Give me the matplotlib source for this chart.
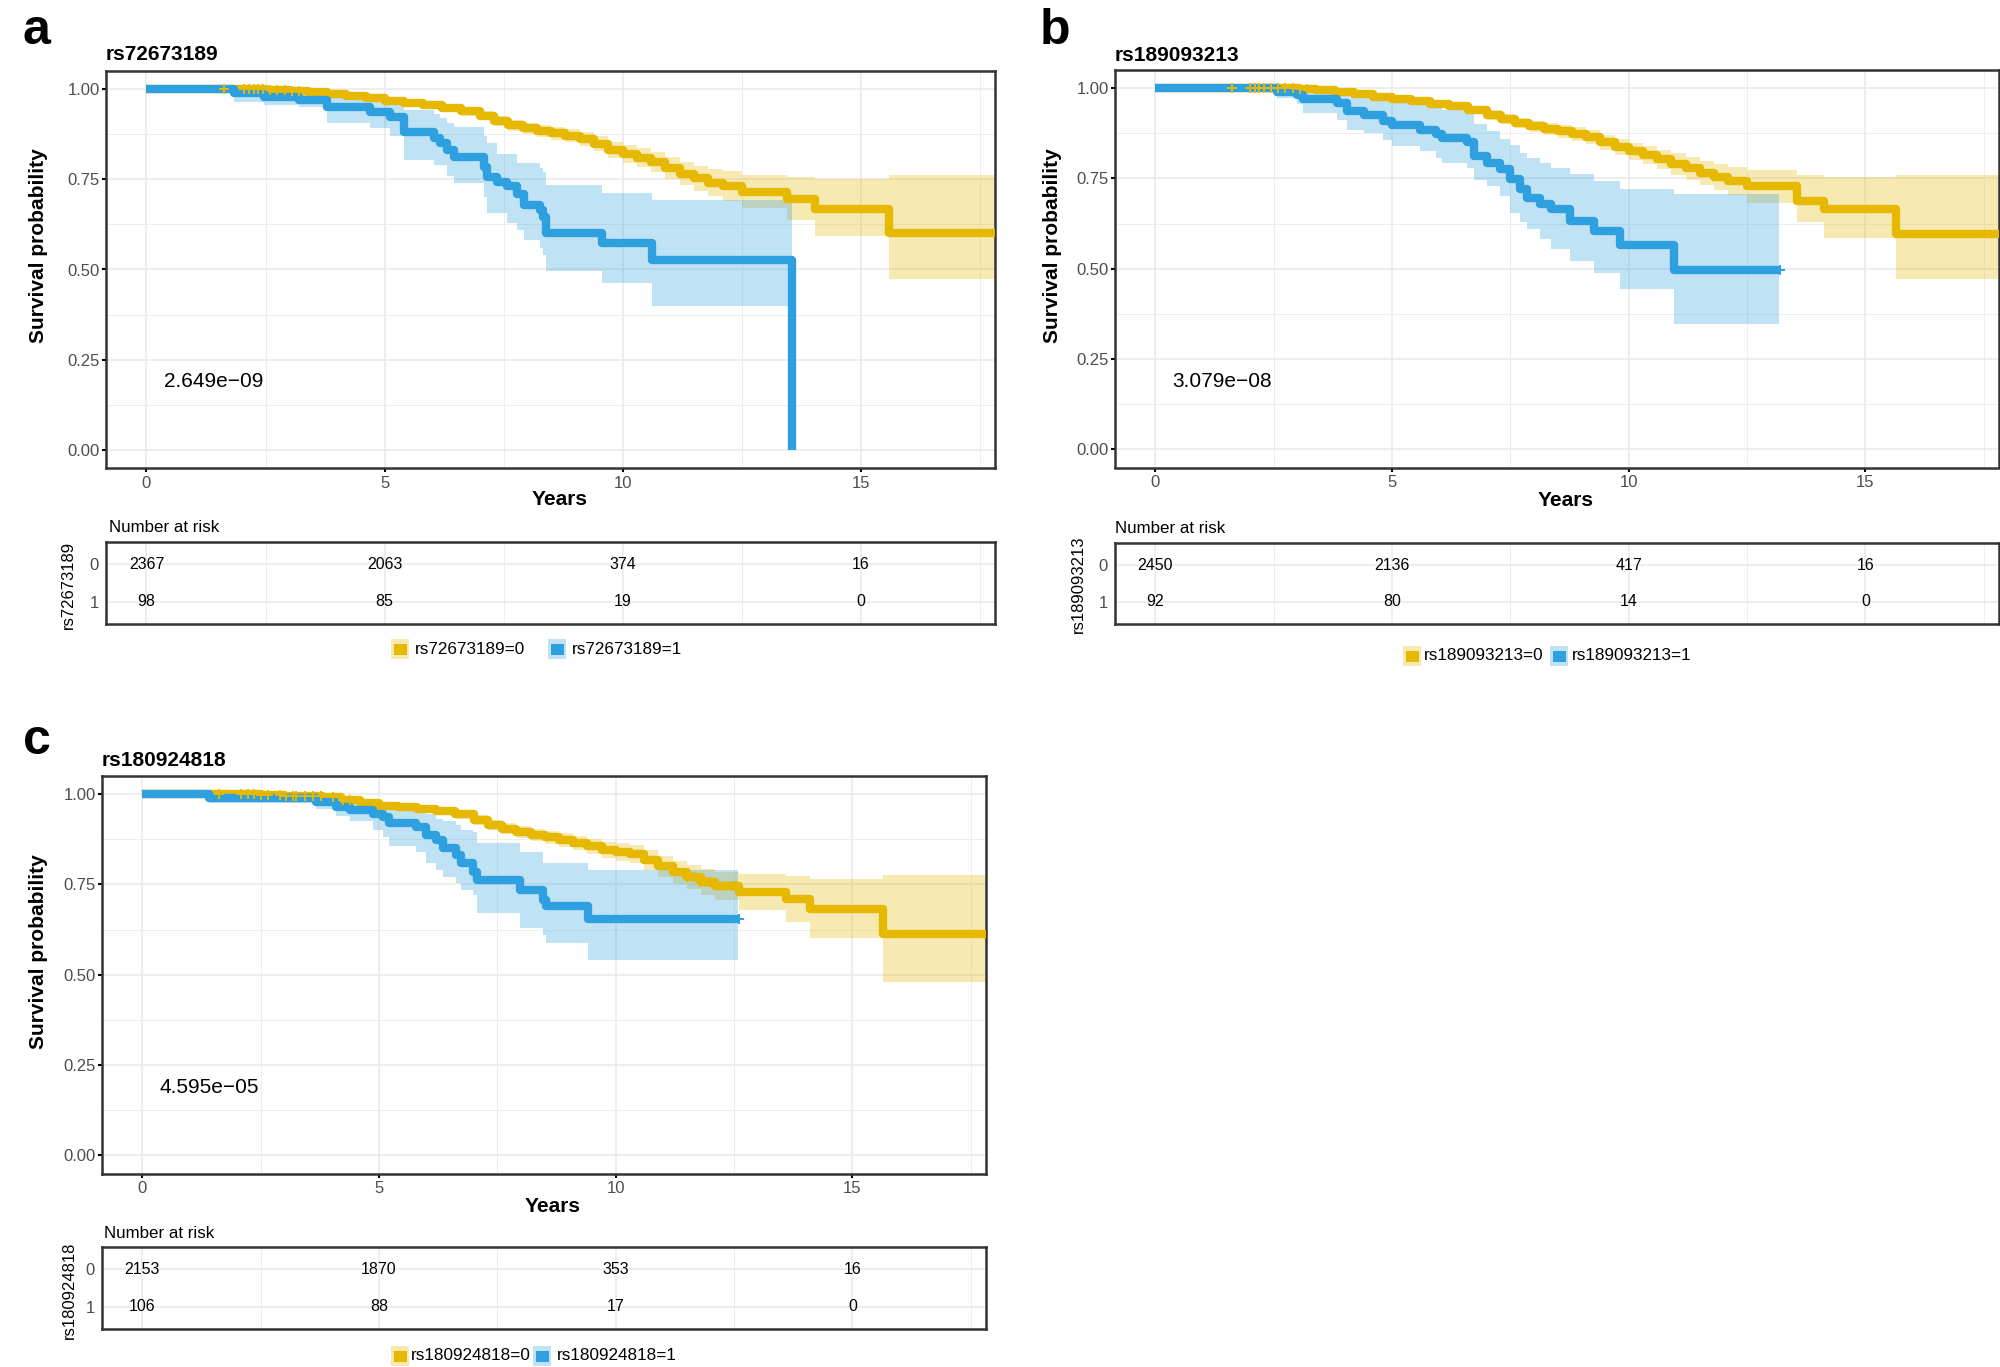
import numpy as np
import matplotlib
matplotlib.use("Agg")
import matplotlib.pyplot as plt
from matplotlib.patches import Rectangle

plt.rcParams['font.family'] = ['Liberation Sans', 'DejaVu Sans']

# ---------------- data ----------------
snps = ["rs72673189", "rs189093213", "rs180924818"]
pvals = ["2.649e\u221209", "3.079e\u221208", "4.595e\u221205"]
x_ticks = [0, 5, 10, 15]
y_ticks = [0.0, 0.25, 0.5, 0.75, 1.0]
y_ticklabels = ["0.00", "0.25", "0.50", "0.75", "1.00"]
risk_times = [0, 5, 10, 15]
risk_labels = ["0", "1"]

risk_a0 = [2367, 2063, 374, 16]
risk_a1 = [98, 85, 19, 0]
risk_b0 = [2450, 2136, 417, 16]
risk_b1 = [92, 80, 14, 0]
risk_c0 = [2153, 1870, 353, 16]
risk_c1 = [106, 88, 17, 0]

# panel a, genotype 0
a_t0 = [0, 1.5, 2.5, 3.0, 3.4, 3.8, 4.2, 4.6, 5.0, 5.4, 5.8, 6.2, 6.6, 7.0, 7.3, 7.6, 7.9, 8.2, 8.5,
        8.8, 9.1, 9.4, 9.7, 10.0, 10.3, 10.6, 10.9, 11.2, 11.5, 11.8, 12.1, 12.5, 13.45, 14.05, 15.6]
a_s0 = [1.0, 0.999, 0.997, 0.995, 0.992, 0.987, 0.981, 0.975, 0.968, 0.962, 0.955, 0.947, 0.938, 0.926,
        0.912, 0.900, 0.891, 0.884, 0.878, 0.871, 0.862, 0.848, 0.832, 0.820, 0.810, 0.798, 0.782, 0.765,
        0.753, 0.741, 0.731, 0.716, 0.695, 0.668, 0.601]
a_lo0 = [1.0, 0.998, 0.995, 0.992, 0.988, 0.982, 0.975, 0.968, 0.960, 0.953, 0.945, 0.936, 0.926, 0.913,
         0.898, 0.885, 0.875, 0.867, 0.860, 0.852, 0.842, 0.827, 0.810, 0.796, 0.784, 0.770, 0.752, 0.733,
         0.718, 0.704, 0.690, 0.670, 0.637, 0.594, 0.473]
a_hi0 = [1.0, 1.0, 0.999, 0.998, 0.996, 0.992, 0.987, 0.982, 0.976, 0.971, 0.965, 0.958, 0.950, 0.939,
         0.926, 0.915, 0.907, 0.901, 0.896, 0.890, 0.882, 0.869, 0.854, 0.844, 0.836, 0.826, 0.812, 0.797,
         0.788, 0.778, 0.772, 0.762, 0.756, 0.750, 0.762]
a_end0 = 17.9
a_cens0 = [1.62, 2.05, 2.15, 2.25, 2.35, 2.45, 2.6, 2.75, 2.9, 3.05, 3.2]

# panel a, genotype 1
a_t1 = [0, 1.83, 2.46, 3.2, 3.79, 4.7, 5.12, 5.40, 6.03, 6.17, 6.31, 6.45, 7.08, 7.15, 7.36, 7.57,
        7.78, 7.92, 8.26, 8.33, 8.40, 9.56, 10.61, 13.55]
a_s1 = [1.0, 0.988, 0.979, 0.970, 0.949, 0.937, 0.923, 0.882, 0.865, 0.850, 0.830, 0.813, 0.785, 0.755,
        0.742, 0.730, 0.710, 0.679, 0.665, 0.645, 0.601, 0.573, 0.527, 0.0]
a_lo1 = [1.0, 0.965, 0.955, 0.951, 0.905, 0.891, 0.870, 0.804, 0.790, 0.790, 0.760, 0.740, 0.700, 0.657,
         0.657, 0.630, 0.610, 0.582, 0.560, 0.540, 0.495, 0.463, 0.400, 0.400]
a_hi1 = [1.0, 1.0, 1.0, 0.995, 0.990, 0.975, 0.970, 0.942, 0.930, 0.920, 0.905, 0.896, 0.870, 0.850,
         0.820, 0.820, 0.795, 0.795, 0.780, 0.770, 0.733, 0.713, 0.693, 0.693]
a_end1 = 13.55
a_cens1 = []

# panel b, genotype 0
b_t0 = [0, 1.5, 2.5, 3.0, 3.4, 3.8, 4.2, 4.6, 5.0, 5.4, 5.8, 6.2, 6.6, 7.0, 7.3, 7.6, 7.9, 8.2, 8.5,
        8.8, 9.1, 9.4, 9.7, 10.0, 10.3, 10.6, 10.9, 11.2, 11.5, 11.8, 12.1, 12.5, 13.55, 14.12, 15.64]
b_s0 = [1.0, 1.0, 0.999, 0.997, 0.994, 0.990, 0.983, 0.976, 0.969, 0.963, 0.957, 0.950, 0.940, 0.926,
        0.915, 0.904, 0.895, 0.888, 0.881, 0.873, 0.864, 0.850, 0.837, 0.825, 0.815, 0.803, 0.790, 0.778,
        0.766, 0.755, 0.743, 0.728, 0.687, 0.664, 0.595]
b_lo0 = [1.0, 0.999, 0.997, 0.994, 0.990, 0.985, 0.977, 0.969, 0.961, 0.954, 0.947, 0.939, 0.928, 0.913,
         0.901, 0.889, 0.879, 0.871, 0.863, 0.854, 0.844, 0.829, 0.815, 0.801, 0.789, 0.775, 0.760, 0.746,
         0.731, 0.718, 0.703, 0.683, 0.628, 0.586, 0.471]
b_hi0 = [1.0, 1.0, 1.0, 0.999, 0.997, 0.994, 0.988, 0.982, 0.976, 0.971, 0.966, 0.960, 0.951, 0.939,
         0.929, 0.918, 0.910, 0.904, 0.898, 0.891, 0.884, 0.871, 0.859, 0.848, 0.840, 0.830, 0.819, 0.809,
         0.799, 0.790, 0.781, 0.773, 0.759, 0.754, 0.759]
b_end0 = 17.9
b_cens0 = [1.62, 2.0, 2.1, 2.2, 2.3, 2.45, 2.6, 2.75, 2.9, 3.05, 3.2]

# panel b, genotype 1
b_t1 = [0, 2.57, 3.0, 3.13, 3.84, 4.05, 4.40, 4.82, 5.0, 5.6, 5.92, 6.06, 6.58, 6.73, 7.01, 7.29, 7.5,
        7.71, 7.85, 8.13, 8.35, 8.77, 9.26, 9.82, 10.95]
b_s1 = [1.0, 0.990, 0.980, 0.970, 0.958, 0.936, 0.925, 0.910, 0.899, 0.885, 0.872, 0.862, 0.850, 0.811,
        0.793, 0.775, 0.747, 0.720, 0.696, 0.680, 0.664, 0.632, 0.604, 0.567, 0.497]
b_lo1 = [1.0, 0.972, 0.955, 0.930, 0.912, 0.885, 0.875, 0.857, 0.840, 0.825, 0.806, 0.793, 0.780, 0.745,
         0.729, 0.700, 0.655, 0.630, 0.609, 0.582, 0.554, 0.522, 0.489, 0.443, 0.346]
b_hi1 = [1.0, 1.0, 1.0, 0.995, 0.990, 0.985, 0.980, 0.970, 0.962, 0.955, 0.945, 0.940, 0.930, 0.900,
         0.880, 0.860, 0.843, 0.820, 0.806, 0.793, 0.780, 0.761, 0.742, 0.722, 0.708]
b_end1 = 13.17
b_cens1 = [13.2]

# panel c, genotype 0
c_t0 = [0, 1.5, 2.5, 3.0, 3.4, 3.8, 4.2, 4.6, 5.0, 5.4, 5.8, 6.2, 6.6, 7.0, 7.3, 7.6, 7.9, 8.2, 8.5,
        8.8, 9.1, 9.4, 9.7, 10.0, 10.3, 10.6, 10.9, 11.2, 11.5, 11.8, 12.1, 12.6, 13.6, 14.1, 15.65]
c_s0 = [1.0, 0.999, 0.998, 0.996, 0.994, 0.991, 0.983, 0.975, 0.968, 0.963, 0.958, 0.953, 0.944, 0.928,
        0.915, 0.904, 0.895, 0.887, 0.880, 0.872, 0.864, 0.855, 0.846, 0.840, 0.833, 0.818, 0.800, 0.783,
        0.771, 0.758, 0.745, 0.730, 0.710, 0.681, 0.612]
c_lo0 = [1.0, 0.998, 0.996, 0.993, 0.990, 0.986, 0.977, 0.968, 0.960, 0.954, 0.948, 0.942, 0.932, 0.915,
         0.901, 0.889, 0.879, 0.870, 0.862, 0.853, 0.844, 0.834, 0.824, 0.816, 0.808, 0.791, 0.771, 0.752,
         0.737, 0.722, 0.706, 0.679, 0.647, 0.603, 0.481]
c_hi0 = [1.0, 1.0, 1.0, 0.999, 0.997, 0.995, 0.989, 0.982, 0.976, 0.972, 0.968, 0.964, 0.956, 0.941,
         0.929, 0.919, 0.911, 0.904, 0.898, 0.891, 0.884, 0.876, 0.868, 0.864, 0.858, 0.845, 0.829, 0.814,
         0.805, 0.794, 0.784, 0.780, 0.774, 0.765, 0.776]
c_end0 = 17.9
c_cens0 = [1.63, 2.09, 2.23, 2.37, 2.51, 2.65, 2.9, 3.04, 3.18, 3.25, 3.43, 3.6, 3.78, 4.03, 4.24, 4.38,
           11.5, 11.65, 11.8, 11.9, 12.0, 12.15, 12.3, 12.45, 12.55]

# panel c, genotype 1
c_t1 = [0, 1.42, 3.67, 4.10, 4.38, 4.87, 5.08, 5.22, 5.79, 6.0, 6.21, 6.35, 6.63, 6.74, 6.98, 7.06,
        7.97, 8.46, 8.53, 9.42]
c_s1 = [1.0, 0.990, 0.977, 0.965, 0.956, 0.946, 0.937, 0.919, 0.909, 0.886, 0.872, 0.850, 0.831, 0.808,
        0.785, 0.762, 0.735, 0.707, 0.689, 0.655]
c_lo1 = [1.0, 0.975, 0.958, 0.940, 0.925, 0.900, 0.882, 0.855, 0.840, 0.810, 0.790, 0.770, 0.755, 0.735,
         0.720, 0.670, 0.630, 0.610, 0.587, 0.541]
c_hi1 = [1.0, 1.0, 0.995, 0.990, 0.985, 0.980, 0.975, 0.965, 0.955, 0.945, 0.930, 0.925, 0.915, 0.900,
         0.895, 0.864, 0.840, 0.810, 0.810, 0.790]
c_end1 = 12.58
c_cens1 = [12.6]

COL0 = "#E7B800"
COL1 = "#2E9FDF"

# ---------------- figure ----------------
W, H = 2000, 1367
fig = plt.figure(figsize=(20, 13.67), dpi=100)


def axes_px(l, t, r, b):
    return fig.add_axes([l / W, 1 - b / H, (r - l) / W, (b - t) / H])


def ftext(x, y, s, **kw):
    return fig.text(x / W, 1 - y / H, s, **kw)


XLIM = (-0.85, 17.82)


def style_grid(ax):
    ax.set_xticks([2.5, 7.5, 12.5, 17.5], minor=True)
    ax.grid(which='major', color='#EBEBEB', lw=1.2)
    ax.grid(which='minor', color='#EBEBEB', lw=0.6)
    ax.set_axisbelow(True)
    for sp in ax.spines.values():
        sp.set_color('#333333')
        sp.set_linewidth(1.8)


def draw_group(ax, t, s, lo, hi, end, cens, col, z):
    x = np.append(np.asarray(t, float), end)
    ys = np.append(s, s[-1])
    yl = np.append(lo, lo[-1])
    yh = np.append(hi, hi[-1])
    ax.fill_between(x, yl, yh, step='post', color=col, alpha=0.3, lw=0, zorder=z)
    ax.step(x, ys, where='post', color=col, lw=6, solid_joinstyle='round',
            solid_capstyle='butt', zorder=z + 2)
    if len(cens):
        tc = np.asarray(cens, float)
        idx = np.searchsorted(np.asarray(t, float), tc, side='right') - 1
        yc = np.asarray(s, float)[idx]
        ax.plot(tc, yc, '+', color=col, ms=7, mew=1.4, zorder=z + 4)


def panel(box, tbox, snp, pval, g0, g1, risk0, risk1, letter, letter_xy, title_xy,
          ylab_xy, years_xy, nar_xy, rowlab_xy, leg):
    ax = axes_px(*box)
    draw_group(ax, *g0, COL0, 1)
    draw_group(ax, *g1, COL1, 1.5)
    ax.set_xlim(*XLIM)
    ax.set_ylim(-0.05, 1.05)
    ax.set_xticks(x_ticks)
    ax.set_xticklabels([str(v) for v in x_ticks])
    ax.set_yticks(y_ticks)
    ax.set_yticklabels(y_ticklabels)
    ax.set_yticks([0.125, 0.375, 0.625, 0.875], minor=True)
    ax.tick_params(which='major', direction='out', length=3, width=1.5, color='black',
                   labelsize=12, labelcolor='#4D4D4D', pad=1.5)
    ax.tick_params(axis='x', pad=2.5)
    ax.tick_params(which='minor', length=0)
    style_grid(ax)
    ax.text(0.36, 0.174, pval, fontsize=15, ha='left', va='baseline', color='black')

    tax = axes_px(*tbox)
    tax.set_xlim(*XLIM)
    tax.set_ylim(-0.6, 1.6)
    tax.set_xticks(x_ticks)
    tax.set_xticklabels([])
    tax.set_yticks([1, 0])
    tax.set_yticklabels(risk_labels)
    tax.tick_params(which='both', length=0, labelsize=12, labelcolor='#4D4D4D', pad=5)
    style_grid(tax)
    for xv, n0, n1 in zip(risk_times, risk0, risk1):
        tax.text(xv, 1, str(n0), ha='center', va='center', fontsize=11.5)
        tax.text(xv, 0, str(n1), ha='center', va='center', fontsize=11.5)

    ftext(*letter_xy, letter, fontsize=36, fontweight='bold', ha='left', va='baseline')
    ftext(*title_xy, snp, fontsize=15, fontweight='bold', ha='left', va='baseline')
    ftext(*ylab_xy, "Survival probability", fontsize=15, fontweight='bold', rotation=90,
          ha='center', va='center')
    ftext(*years_xy, "Years", fontsize=15, fontweight='bold', ha='center', va='baseline')
    ftext(*nar_xy, "Number at risk", fontsize=12.2, ha='left', va='baseline')
    ftext(*rowlab_xy, snp, fontsize=12, rotation=90, ha='center', va='center')

    k1, t1, k2, t2, yc = leg
    for xk, xt, col, lab in [(k1, t1, COL0, snp + "=0"), (k2, t2, COL1, snp + "=1")]:
        fig.add_artist(Rectangle((xk / W, 1 - (yc + 10) / H), 18 / W, 20 / H,
                                 transform=fig.transFigure, facecolor=col, alpha=0.3, lw=0))
        fig.add_artist(Rectangle(((xk + 3) / W, 1 - (yc + 5.5) / H), 13 / W, 11 / H,
                                 transform=fig.transFigure, facecolor=col, lw=0))
        ftext(xt, yc, lab, fontsize=12.3, ha='left', va='center')


panel((106, 71, 995, 468), (106, 542, 995, 624), snps[0], pvals[0],
      (a_t0, a_s0, a_lo0, a_hi0, a_end0, a_cens0), (a_t1, a_s1, a_lo1, a_hi1, a_end1, a_cens1),
      risk_a0, risk_a1, "a", (23, 43.5), (105.5, 60), (38.5, 246), (560, 505),
      (109, 532), (68, 585), (391, 415, 548, 572, 649))

panel((1115, 70, 1999, 467.5), (1115, 543, 1999, 624), snps[1], pvals[1],
      (b_t0, b_s0, b_lo0, b_hi0, b_end0, b_cens0), (b_t1, b_s1, b_lo1, b_hi1, b_end1, b_cens1),
      risk_b0, risk_b1, "b", (1040, 43.5), (1115, 61), (1053, 246), (1566, 506),
      (1115, 533), (1078, 584), (1403, 1424, 1550, 1572, 656))

panel((102, 776, 986, 1173.5), (102, 1247, 986, 1329), snps[2], pvals[2],
      (c_t0, c_s0, c_lo0, c_hi0, c_end0, c_cens0), (c_t1, c_s1, c_lo1, c_hi1, c_end1, c_cens1),
      risk_c0, risk_c1, "c", (23, 753.5), (102, 766), (39, 952), (553, 1212),
      (104, 1238), (69, 1290), (391, 411, 533, 557, 1356))

fig.savefig("out.png", dpi=100, facecolor='white')
